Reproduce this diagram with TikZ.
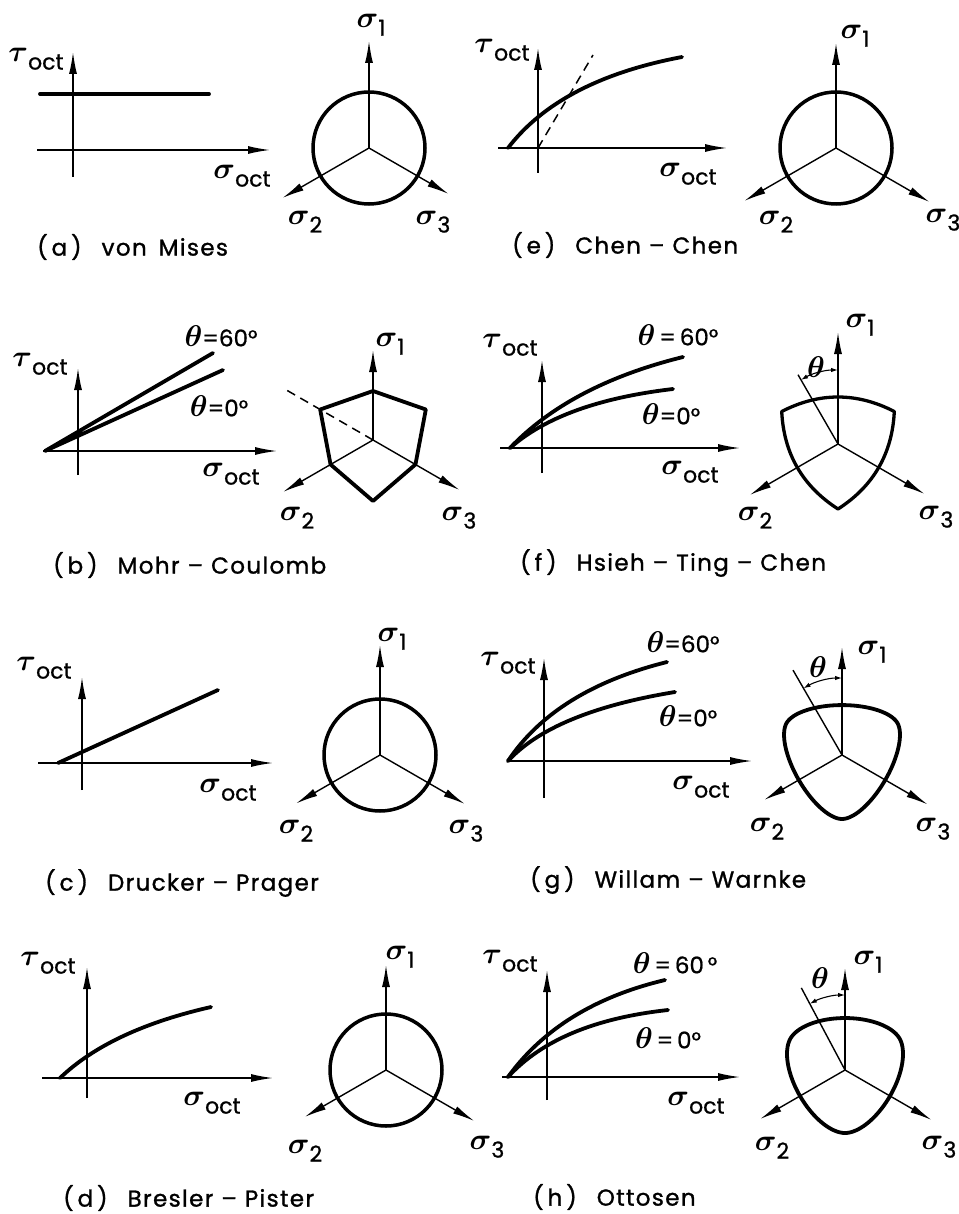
\documentclass[tikz,border=0pt]{standalone}
\usepackage{graphicx}
\usepackage{amsmath}
\usepackage{fontspec}
\setmainfont{Poppins}
\newfontfamily\capfont[LetterSpace=6,FakeBold=1.2]{Poppins}
\newfontfamily\subfont[FakeBold=0.8]{Poppins}
\usetikzlibrary{arrows.meta,calc}
\newcommand\gk[1]{\scalebox{3}{$\boldsymbol{#1}$}}
\newcommand\lsub[1]{\raisebox{-8pt}{\fontsize{22}{22}\selectfont\subfont #1}}
\newcommand\toct{\gk{\tau}\lsub{oct}}
\newcommand\soct{\gk{\sigma}\lsub{oct}}
\newcommand\sgn[1]{\gk{\sigma}\lsub{#1}}
\newcommand\thl[1]{\gk{\theta}{\fontsize{23}{23}\selectfont\subfont #1}}
\newcommand\capt[2]{(\hspace{4pt}#1\hspace{4pt})\hspace{20pt}#2}
\newcommand\dd{\hspace{8pt}–\hspace{8pt}}
\newcommand\octax[4]{%
  \coordinate (#1-1) at ($(#1)+(-90:#2)$);
  \coordinate (#1-2) at ($(#1)+(150:#3)$);
  \coordinate (#1-3) at ($(#1)+(30:#4)$);
  \draw[arr] (#1) -- (#1-1);
  \draw[arr] (#1) -- (#1-2);
  \draw[arr] (#1) -- (#1-3);}
\newcommand\plotaxes[7]{%
  \coordinate (#1-tb) at (#2,#3); \coordinate (#1-tt) at (#2,#4);
  \coordinate (#1-sl) at (#6,#5); \coordinate (#1-sr) at (#7,#5);
  \draw[arr] (#1-tb) -- (#1-tt);
  \draw[arr] (#1-sl) -- (#1-sr);}
\newcommand\qcurve[3]{\draw[crv] (#1) .. controls ($(#1)!2/3!(#2)$) and ($(#3)!2/3!(#2)$) .. (#3);}
\begin{document}
\begin{tikzpicture}[x=1pt,y=-1pt,
  arr/.style={line width=1.4pt,-{Latex[length=22pt,width=8pt]}},
  thinln/.style={line width=1.4pt},
  crv/.style={line width=3.8pt,line cap=round,line join=round},
  circ/.style={line width=3.5pt},
  dsh/.style={line width=1.5pt,dash pattern=on 9pt off 6pt},
  captxt/.style={anchor=west,inner sep=0pt,font=\capfont\fontsize{23}{26}\selectfont},
  lab/.style={inner sep=0pt},
  tharc/.style={line width=1.1pt,{Latex[length=7pt,width=4.5pt]}-{Latex[length=7pt,width=4.5pt]}},
  declare function={wwc(\ang)=cos(abs(mod(\ang+150,120)-60));
    wwr(\ang,\ee)=(2*(1-\ee*\ee)*wwc(\ang)+(2*\ee-1)*sqrt(4*(1-\ee*\ee)*wwc(\ang)*wwc(\ang)+5*\ee*\ee-4*\ee))/(4*(1-\ee*\ee)*wwc(\ang)*wwc(\ang)+(1-2*\ee)*(1-2*\ee));}]
\useasboundingbox (0,0) rectangle (958,1214);
\fill[white] (0,0) rectangle (958,1214);

% ---------- (a) von Mises
\plotaxes{pa}{73}{177}{52}{150}{37}{270}
\coordinate (pa-l0) at (40,94); \coordinate (pa-l1) at (209,94);
\draw[crv] (pa-l0) -- (pa-l1);
\node[lab] (pa-tau) at (36,59) {\toct};
\node[lab] (pa-sig) at (242,176) {\soct};
\coordinate (oa) at (369,148);
\draw[circ] (oa) circle[radius=56];
\octax{oa}{107}{100}{92}
\node[lab] (oa-l1) at (371,25) {\sgn{1}};
\node[lab] (oa-l2) at (305,222) {\sgn{2}};
\node[lab] (oa-l3) at (433,222) {\sgn{3}};
\node[captxt] (capa) at (37,247) {\capt{a}{von\hspace{12pt}Mises}};

% ---------- (e) Chen-Chen
\plotaxes{pe}{538}{173}{48}{148}{498}{727}
\qcurve{508,148}{560,80}{682,57}
\coordinate (pe-o) at (538,148); \coordinate (pe-d) at (593,55);
\draw[dsh] (pe-o) -- (pe-d);
\node[lab] (pe-tau) at (502,50) {\toct};
\node[lab] (pe-sig) at (688,174) {\soct};
\coordinate (oe) at (836,148);
\draw[circ] (oe) circle[radius=56];
\octax{oe}{105}{106}{108}
\node[lab] (oe-l1) at (855,36) {\sgn{1}};
\node[lab] (oe-l2) at (776,222) {\sgn{2}};
\node[lab] (oe-l3) at (943,220) {\sgn{3}};
\node[captxt] (cape) at (512,245) {\capt{e}{Chen\dd Chen}};

% ---------- (b) Mohr-Coulomb
\plotaxes{pb}{78}{475}{368}{451}{43}{277}
\coordinate (pb-o) at (45,451); \coordinate (pb-60) at (213,353); \coordinate (pb-0) at (223,370);
\draw[crv] (pb-60) -- (pb-o) -- (pb-0);
\node[lab] (pb-tau) at (40,364) {\toct};
\node[lab] (pb-sig) at (231,474) {\soct};
\node[lab] (pb-t60) at (221,336) {\thl{=60°}};
\node[lab] (pb-t0) at (219,406) {\thl{=0°}};
\coordinate (ob) at (373,440);
\draw[crv] ($(ob)+(-90:49)$) -- ($(ob)+(-30:61)$) -- ($(ob)+(30:49)$) -- ($(ob)+(90:61)$) -- ($(ob)+(150:49)$) -- ($(ob)+(210:61)$) -- cycle;
\coordinate (ob-d) at ($(ob)+(210:100)$);
\draw[dsh] (ob) -- (ob-d);
\octax{ob}{90}{104}{100}
\node[lab] (ob-l1) at (390,344) {\sgn{1}};
\node[lab] (ob-l2) at (297,518) {\sgn{2}};
\node[lab] (ob-l3) at (459,518) {\sgn{3}};
\node[captxt] (capb) at (53,565) {\capt{b}{Mohr\dd Coulomb}};

% ---------- (f) Hsieh-Ting-Chen
\plotaxes{pf}{542}{473}{360}{448}{500}{740}
\qcurve{510,448}{570,385}{683,357}
\qcurve{510,448}{562,402}{673,389}
\node[lab] (pf-tau) at (510,345) {\toct};
\node[lab] (pf-sig) at (690,472) {\soct};
\node[lab] (pf-t60) at (678,335) {\thl{\,=\,60°}};
\node[lab] (pf-t0) at (671,414) {\thl{=0°}};
\coordinate (of) at (838,444);
\coordinate (of-k1) at ($(of)+(210:65)$);
\coordinate (of-k2) at ($(of)+(-30:65)$);
\coordinate (of-k3) at ($(of)+(90:65)$);
\coordinate (of-q1) at ($(of)+(-90:61.5)$);
\coordinate (of-q2) at ($(of)+(30:61.5)$);
\coordinate (of-q3) at ($(of)+(150:61.5)$);
\draw[crv,line width=3.3pt] (of-k1) .. controls ($(of-k1)!2/3!(of-q1)$) and ($(of-k2)!2/3!(of-q1)$) .. (of-k2)
  .. controls ($(of-k2)!2/3!(of-q2)$) and ($(of-k3)!2/3!(of-q2)$) .. (of-k3)
  .. controls ($(of-k3)!2/3!(of-q3)$) and ($(of-k1)!2/3!(of-q3)$) .. (of-k1) -- cycle;
\coordinate (of-th) at ($(of)+(240:80)$);
\draw[thinln] (of) -- (of-th);
\draw[tharc] ($(of)+(-90:74)$) arc[start angle=-90,end angle=-120,radius=74];
\octax{of}{112}{102}{100}
\node[lab] (of-th-l) at (816,367) {\gk{\theta}};
\node[lab] (of-l1) at (860,325) {\sgn{1}};
\node[lab] (of-l2) at (755,518) {\sgn{2}};
\node[lab] (of-l3) at (936,517) {\sgn{3}};
\node[captxt] (capf) at (520,563) {\capt{f}{Hsieh\dd Ting\dd Chen}};

% ---------- (c) Drucker-Prager
\plotaxes{pc}{82}{790}{677}{763}{38}{273}
\coordinate (pc-l0) at (58,763); \coordinate (pc-l1) at (218,690);
\draw[crv] (pc-l0) -- (pc-l1);
\node[lab] (pc-tau) at (44,668) {\toct};
\node[lab] (pc-sig) at (228,790) {\soct};
\coordinate (oc) at (380,755);
\draw[circ] (oc) circle[radius=56];
\octax{oc}{110}{97}{98}
\node[lab] (oc-l1) at (392,639) {\sgn{1}};
\node[lab] (oc-l2) at (296,831) {\sgn{2}};
\node[lab] (oc-l3) at (466,831) {\sgn{3}};
\node[captxt] (capc) at (45,883) {\capt{c}{Drucker\dd Prager}};

% ---------- (g) Willam-Warnke
\plotaxes{pg}{544}{798}{658}{761}{507}{752}
\qcurve{508,761}{555,690}{667,662}
\qcurve{508,761}{553,712}{675,692}
\node[lab] (pg-tau) at (508,663) {\toct};
\node[lab] (pg-sig) at (701,787) {\soct};
\node[lab] (pg-t60) at (683,642) {\thl{=60°}};
\node[lab] (pg-t0) at (688,716) {\thl{=0°}};
\coordinate (og) at (842,755);
\begin{scope}[shift={(og)}]
\draw[crv] plot[domain=0:358,samples=180] (\x:{64*wwr(\x,0.78)}) -- cycle;
\end{scope}
\coordinate (og-th) at ($(og)+(240:98)$);
\draw[thinln] (og) -- (og-th);
\draw[tharc] ($(og)+(-90:77)$) arc[start angle=-90,end angle=-120,radius=77];
\octax{og}{108}{90}{99}
\node[lab] (og-th-l) at (818,667) {\gk{\theta}};
\node[lab] (og-l1) at (872,652) {\sgn{1}};
\node[lab] (og-l2) at (767,829) {\sgn{2}};
\node[lab] (og-l3) at (933,829) {\sgn{3}};
\node[captxt] (capg) at (530,880) {\capt{g}{Willam\dd Warnke}};

% ---------- (d) Bresler-Pister
\plotaxes{pd}{87}{1098}{967}{1078}{42}{273}
\qcurve{60,1078}{110,1030}{211,1007}
\node[lab] (pd-tau) at (48,963) {\toct};
\node[lab] (pd-sig) at (212,1103) {\soct};
\coordinate (od) at (386,1070);
\draw[circ] (od) circle[radius=56];
\octax{od}{105}{94}{102}
\node[lab] (od-l1) at (400,957) {\sgn{1}};
\node[lab] (od-l2) at (305,1151) {\sgn{2}};
\node[lab] (od-l3) at (487,1147) {\sgn{3}};
\node[captxt] (capd) at (63,1198) {\capt{d}{Bresler\dd Pister}};

% ---------- (h) Ottosen
\plotaxes{ph}{547}{1100}{970}{1077}{502}{740}
\qcurve{508,1077}{560,1005}{665,980}
\qcurve{508,1077}{558,1022}{668,1010}
\node[lab] (ph-tau) at (510,961) {\toct};
\node[lab] (ph-sig) at (696,1103) {\soct};
\node[lab] (ph-t60) at (675,963) {\thl{\,=\,60\,°}};
\node[lab] (ph-t0) at (668,1038) {\thl{\,=\,0°}};
\coordinate (oh) at (845,1070);
\begin{scope}[shift={(oh)}]
\draw[crv] plot[domain=0:358,samples=180] (\x:{63*wwr(\x,0.825)}) -- cycle;
\end{scope}
\coordinate (oh-th) at ($(oh)+(242:93)$);
\draw[thinln] (oh) -- (oh-th);
\draw[tharc] ($(oh)+(-90:75)$) arc[start angle=-90,end angle=-118,radius=75];
\octax{oh}{102}{98}{100}
\node[lab] (oh-th-l) at (820,978) {\gk{\theta}};
\node[lab] (oh-l1) at (868,962) {\sgn{1}};
\node[lab] (oh-l2) at (772,1148) {\sgn{2}};
\node[lab] (oh-l3) at (939,1147) {\sgn{3}};
\node[captxt] (caph) at (533,1197) {\capt{h}{Ottosen}};
\end{tikzpicture}
\end{document}
